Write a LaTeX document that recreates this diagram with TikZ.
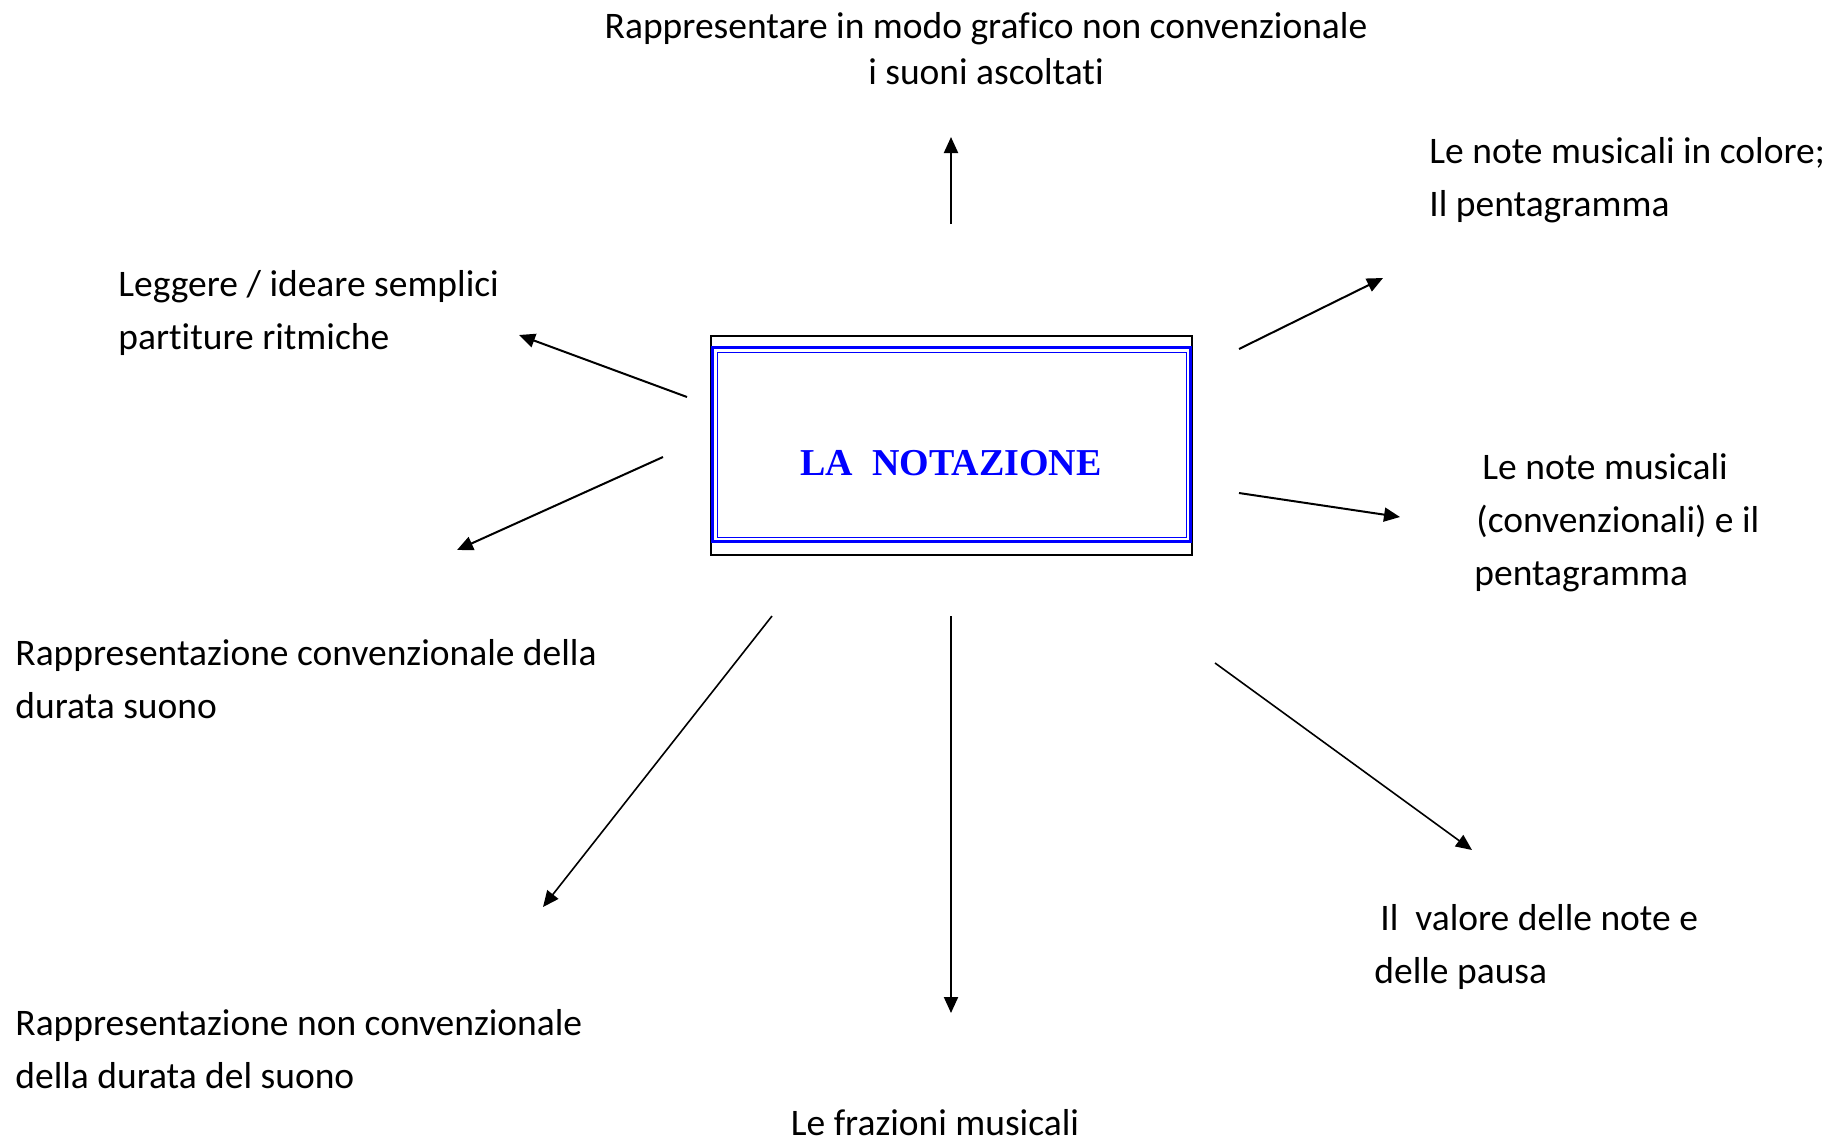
\documentclass[tikz,border=0pt]{standalone}
\usepackage{fontspec}
\setmainfont{Carlito}[Ligatures=NoCommon]
\newfontfamily\titolofont{Liberation Serif}
\usetikzlibrary{positioning, calc, arrows.meta}

\tikzset{
  voce/.style={inner sep=0pt, anchor=base west, align=left,
    font=\fontsize{18.75}{26.5}\selectfont},
  freccia/.style={line width=1pt, -{Triangle[length=8pt,width=7pt]}},
}

\begin{document}
\begin{tikzpicture}[x=0.5pt, y=-0.5pt]
  \useasboundingbox (0,0) rectangle (1830,1142);
  % riquadro centrale
  \draw[line width=0.8pt] (711,336) rectangle (1192,555);
  \draw[draw=blue, fill=white, line width=1.6pt] (712.5,347.5) rectangle (1190.5,541.5);
  \draw[blue, line width=0.8pt] (717.5,352.5) rectangle (1186.5,537.5);
  \node[inner sep=0pt, anchor=base, text=blue,
    font=\titolofont\bfseries\fontsize{19}{19}\selectfont] (nota) at (951,475) {LA\ \ NOTAZIONE};

  % voci (base = ultima riga)
  \node[voce, anchor=base, align=center, font=\fontsize{18.75}{22.75}\selectfont] (grafico) at (986,84)
    {Rappresentare in modo grafico non convenzionale\\i suoni ascoltati};
  \node[voce] (colore) at (1429,216) {Le note musicali in colore;\\Il pentagramma};
  \node[voce] (leggere) at (118,349) {Leggere / ideare semplici\\partiture ritmiche};
  \node[voce] (pentagr) at (1474,585) {\hspace*{4pt}Le note musicali\\\hspace*{1pt}(convenzionali) e il\\pentagramma};
  \node[voce] (durata) at (15,718) {Rappresentazione convenzionale della\\durata suono};
  \node[voce] (valore) at (1374,983) {\hspace*{3pt}Il\ \ valore delle note e\\delle pausa};
  \node[voce] (nonconv) at (15,1088) {Rappresentazione non convenzionale\\della durata del suono};
  \node[voce, anchor=base] (frazioni) at (935,1135) {Le frazioni musicali};

  % frecce
  \coordinate (su0) at (951,224);   \coordinate (su1) at (951,137);
  \coordinate (ne0) at (1239,349);  \coordinate (ne1) at (1383,278);
  \coordinate (e0) at (1239,493);   \coordinate (e1) at (1400,517);
  \coordinate (no0) at (687,397);   \coordinate (no1) at (519,335);
  \coordinate (o0) at (663,457);    \coordinate (o1) at (457,550);
  \coordinate (so0) at (772,616);   \coordinate (so1) at (543,907);
  \coordinate (giu0) at (951,616);  \coordinate (giu1) at (951,1013);
  \coordinate (se0) at (1215,663);  \coordinate (se1) at (1472,850);

  \draw[freccia] (su0) -- (su1);
  \draw[freccia] (ne0) -- (ne1);
  \draw[freccia] (e0) -- (e1);
  \draw[freccia] (no0) -- (no1);
  \draw[freccia] (o0) -- (o1);
  \draw[freccia, line width=0.8pt] (so0) -- (so1);
  \draw[freccia] (giu0) -- (giu1);
  \draw[freccia, line width=0.8pt] (se0) -- (se1);
\end{tikzpicture}
\end{document}
